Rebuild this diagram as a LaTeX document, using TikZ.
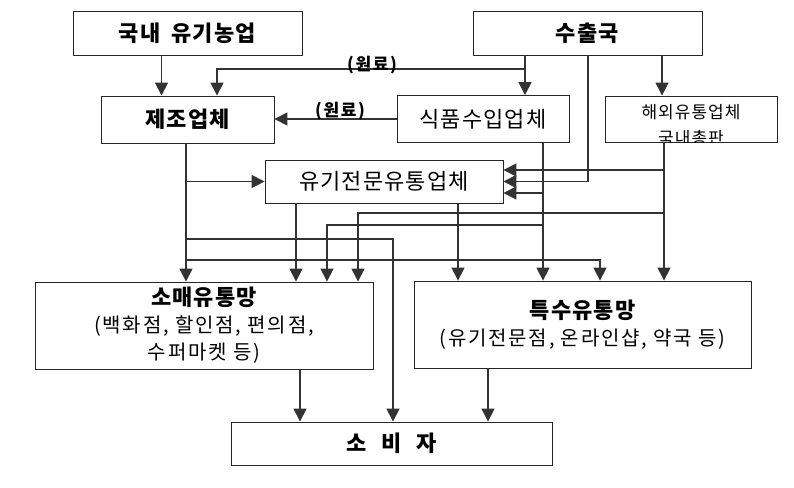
\documentclass[tikz,border=0pt]{standalone}
\usepackage{fontspec}
\setmainfont{Noto Sans CJK KR}
\usetikzlibrary{arrows.meta,positioning,calc}

\begin{document}
\begin{tikzpicture}[x=1pt,y=-1pt,
    module/.style={draw=black!85, line width=0.9pt, minimum width=172pt, minimum height=47pt, align=center, inner sep=0pt, font=\fontsize{22}{24}\selectfont\addfontfeatures{LetterSpace=5}},
    title/.style={module, font=\bfseries\fontsize{22}{24}\selectfont\addfontfeatures{LetterSpace=6}},
    channel/.style={module, minimum height=87pt, font=\fontsize{20}{27}\selectfont\addfontfeatures{LetterSpace=9}},
    arrow/.style={line width=1.6pt, draw=black!80, -{Triangle[length=13pt,width=13pt]}},
    rawtag/.style={font=\bfseries\fontsize{17}{18}\selectfont\addfontfeatures{LetterSpace=10}, inner sep=0pt}
]
    \useasboundingbox (0,0) rectangle (794,487);

    % Sources
    \node[title, minimum width=229pt, minimum height=44pt] (farm) at (187.5,33) {국내\hspace{4pt} 유기농업};
    \node[title, minimum width=229pt, minimum height=44pt] (export) at (587.5,33) {수출국};

    % Middle row
    \node[title, minimum width=173pt] (maker) at (187.5,119.5) {제조업체};
    \node[module] (importer) at (483,119) {식품수입업체};
    \node[module, minimum height=46pt] (overseas) at (691,119) {};
    \begin{scope}
        \clip (overseas.south west) rectangle (overseas.north east);
        \node[font=\fontsize{17}{26}\selectfont\addfontfeatures{LetterSpace=6}, align=center, inner sep=0pt, anchor=north] (overseastext) at (691,104) {해외유통업체\\국내총판};
    \end{scope}
    \node[module, minimum width=238pt, minimum height=43pt] (organic) at (384,181.5) {유기전문유통업체};

    % Channels
    \node[channel, minimum width=338pt] (retail) at (204,325.5) {{\bfseries\fontsize{22}{27}\selectfont\addfontfeatures{LetterSpace=5}소매유통망}\\(백화점, 할인점, 편의점,\\수퍼마켓 등)};
    \node[channel, minimum width=337pt] (special) at (582.5,324.5) {{\bfseries\fontsize{22}{27}\selectfont\addfontfeatures{LetterSpace=5}특수유통망}\\(유기전문점, 온라인샵, 약국 등)};
    \node[title, minimum width=321pt, minimum height=43pt] (consumer) at (391.5,443.5) {소\hspace{15pt}비\hspace{15pt}자};

    % Entry / exit points
    \coordinate (mkin1) at ([xshift=-26pt]maker.north);
    \coordinate (mkin2) at ([xshift=29.5pt]maker.north);
    \coordinate (imin) at ([xshift=42pt]importer.north);
    \coordinate (ovin) at ([xshift=-29pt]overseas.north);
    \coordinate (orin1) at ([yshift=11.5pt]organic.east);
    \coordinate (orin3) at ([yshift=-11.5pt]organic.east);
    \coordinate (mkout) at ([xshift=-1.5pt]maker.south);
    \coordinate (imout) at ([xshift=60pt]importer.south);
    \coordinate (ovout) at ([xshift=-27pt]overseas.south);
    \coordinate (exout) at ([xshift=0.5pt]export.south);
    \coordinate (orout1) at ([xshift=-88pt]organic.south);
    \coordinate (orout2) at ([xshift=74pt]organic.south);
    \coordinate (rtout) at ([xshift=96pt]retail.south);
    \coordinate (spout) at ([xshift=-94.5pt]special.south);

    % Raw material flows
    \draw[arrow] (mkin1 |- farm.south) -- (mkin1);
    \draw[arrow] (imin |- export.south) -- (imin);
    \draw[arrow] (imin |- 0,69) -| (mkin2);
    \node[rawtag] (raw1) at (372,65) {(원료)};
    \draw[arrow] (importer.west) -- (importer.west -| maker.east);
    \node[rawtag] (raw2) at (340,111) {(원료)};
    \draw[arrow] (ovin |- export.south) -- (ovin);
    \draw[arrow] (exout) |- (organic.east);

    % Distribution
    \draw[arrow] (ovout) -- (ovout |- special.north);
    \draw[arrow] (ovout |- orin1) -- (orin1);
    \draw[arrow] (ovout |- 0,213) -| ([xshift=154pt]retail.north);
    \draw[arrow] (imout) -- (imout |- special.north);
    \draw[arrow] (imout |- orin3) -- (orin3);
    \draw[arrow] (imout |- 0,225) -| ([xshift=123pt]retail.north);
    \draw[arrow] (mkout) -- (mkout |- retail.north);
    \draw[arrow] (mkout |- organic.west) -- (organic.west);
    \draw[arrow] (mkout |- 0,239) -| ([xshift=1.5pt]consumer.north);
    \draw[arrow] (mkout |- 0,260) -| ([xshift=17.5pt]special.north);
    \draw[arrow] (orout1) -- (orout1 |- retail.north);
    \draw[arrow] (orout2) -- (orout2 |- special.north);

    % To consumer
    \draw[arrow] (rtout) -- (rtout |- consumer.north);
    \draw[arrow] (spout) -- (spout |- consumer.north);
\end{tikzpicture}
\end{document}
